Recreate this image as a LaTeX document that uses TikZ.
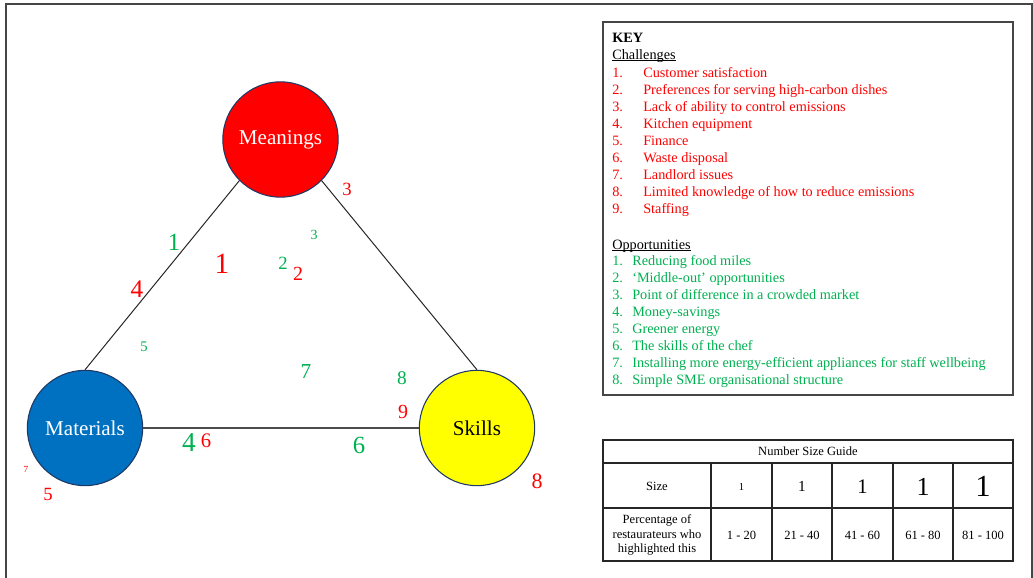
\documentclass[tikz,border=0pt]{standalone}
\usepackage{fontspec}
\setmainfont{Liberation Serif}
\definecolor{kred}{RGB}{255,0,0}
\definecolor{kgreen}{RGB}{0,176,80}
\definecolor{mblue}{RGB}{0,112,192}
\definecolor{syellow}{RGB}{255,255,0}
\definecolor{rimcol}{RGB}{32,56,100}
\definecolor{framecol}{RGB}{70,70,70}
\newcommand{\fsz}[1]{\fontsize{#1}{#1}\selectfont}
\newcommand{\ulword}[1]{\setbox0\hbox{#1}\rlap{\rule[-1.6pt]{\wd0}{0.5pt}}\box0}
\tikzset{
  hub/.style={circle, draw=rimcol, line width=0.8pt, minimum size=86.5pt, inner sep=0pt, font=\fsz{15.8}},
  link/.style={draw=black!85, line width=0.75pt},
  baselink/.style={draw=black!70, line width=1.2pt},
  numlab/.style={inner sep=0pt},
  keytxt/.style={inner sep=0pt, anchor=base west, font=\fsz{10.7}},
  tabtxt/.style={inner sep=0pt, align=center, font={\fontsize{9.4}{10.8}\selectfont}},
  boxline/.style={draw=framecol, line width=1.1pt},
  gridline/.style={draw=black!85, line width=0.8pt}
}
\begin{document}
\begin{tikzpicture}[x=0.75pt,y=-0.75pt]
\useasboundingbox (0,0) rectangle (1033,578);
% outer frame
\draw[draw=framecol, line width=1.5pt] (6,590) -- (6,4) -- (1032,4) -- (1032,590);

% hubs
\node[hub, fill=kred, text=white] (mea) at (280.5,139.5) {Meanings};
\node[hub, fill=mblue, text=white] (mat) at (85,428) {Materials};
\node[hub, fill=syellow, text=black] (ski) at (477,428) {Skills};
\draw[link] (mat.north) -- (mea.south west);
\draw[link] (mea.south east) -- (ski.north);
\draw[baselink] (mat.east) -- (ski.west);

% number labels
\foreach \nm/\x/\y/\c/\s/\t in {
  g1/174/242/kgreen/18.5/1,
  r1/222/264/kred/22/1,
  g3/314/235/kgreen/10.5/3,
  r3/347/189/kred/14/3,
  g2/283/263/kgreen/14/2,
  r2/298/274/kred/15/2,
  r4/137/289/kred/19/4,
  g5/144/347/kgreen/11/5,
  g7/306/372/kgreen/16/7,
  g8/402/378/kgreen/14.5/8,
  r9/403/412/kred/15/9,
  g4/189/443/kgreen/20.5/4,
  r6/206/441/kred/15.5/6,
  g6/359/445/kgreen/18.5/6,
  r7/26/469/kred/7/7,
  r5/48/494/kred/14/5,
  r8/537/481/kred/16.5/8}
  { \node[numlab, text=\c, font=\fsz{\s}] (n\nm) at (\x,\y) {\t}; }

% key box
\draw[boxline] (603,22) rectangle (1013,395);
\node[keytxt] (keyh) at (612,42) {\textbf{KEY}};
\node[keytxt] (chh) at (612,59) {\ulword{Challenges}};
\foreach \i/\y/\t in {
  1/77/Customer satisfaction,
  2/94/Preferences for serving high-carbon dishes,
  3/111/Lack of ability to control emissions,
  4/128/Kitchen equipment,
  5/145/Finance,
  6/162/Waste disposal,
  7/179/Landlord issues,
  8/196/Limited knowledge of how to reduce emissions,
  9/213/Staffing}
  { \node[keytxt, text=kred] (cn\i) at (612,\y) {\i.};
    \node[keytxt, text=kred] (ct\i) at (643,\y) {\t}; }
\node[keytxt] (oph) at (612,249) {\ulword{Opportunities}};
\foreach \i/\y/\t in {
  1/265/Reducing food miles,
  2/282/‘Middle-out’ opportunities,
  3/299/Point of difference in a crowded market,
  4/316/Money-savings,
  5/333/Greener energy,
  6/350/The skills of the chef,
  7/367/Installing more energy-efficient appliances for staff wellbeing,
  8/384/Simple SME organisational structure}
  { \node[keytxt, text=kgreen] (on\i) at (612,\y) {\i.};
    \node[keytxt, text=kgreen] (ot\i) at (632,\y) {\t}; }

% size guide table
\draw[gridline] (603,440) rectangle (1013,561);
\draw[gridline] (603,463) -- (1013,463);
\draw[gridline] (603,508) -- (1013,508);
\foreach \cx in {711,772,832,893,953} { \draw[gridline] (\cx,463) -- (\cx,561); }
\node[tabtxt] (thead) at (808,451.5) {Number Size Guide};
\node[tabtxt] (tsize) at (657,486) {Size};
\node[tabtxt] (tpct) at (657,535) {Percentage of\\restaurateurs who\\highlighted this};
\foreach \nm/\cx/\s/\r in {a/741.5/8/1 - 20, b/802/11.5/21 - 40, c/862.5/15.5/41 - 60, d/923/19.5/61 - 80, e/983/23/81 - 100}
  { \node[numlab, font=\fsz{\s}] (ts\nm) at (\cx,486.5) {1};
    \node[tabtxt] (tp\nm) at (\cx,535) {\r}; }
\end{tikzpicture}
\end{document}
